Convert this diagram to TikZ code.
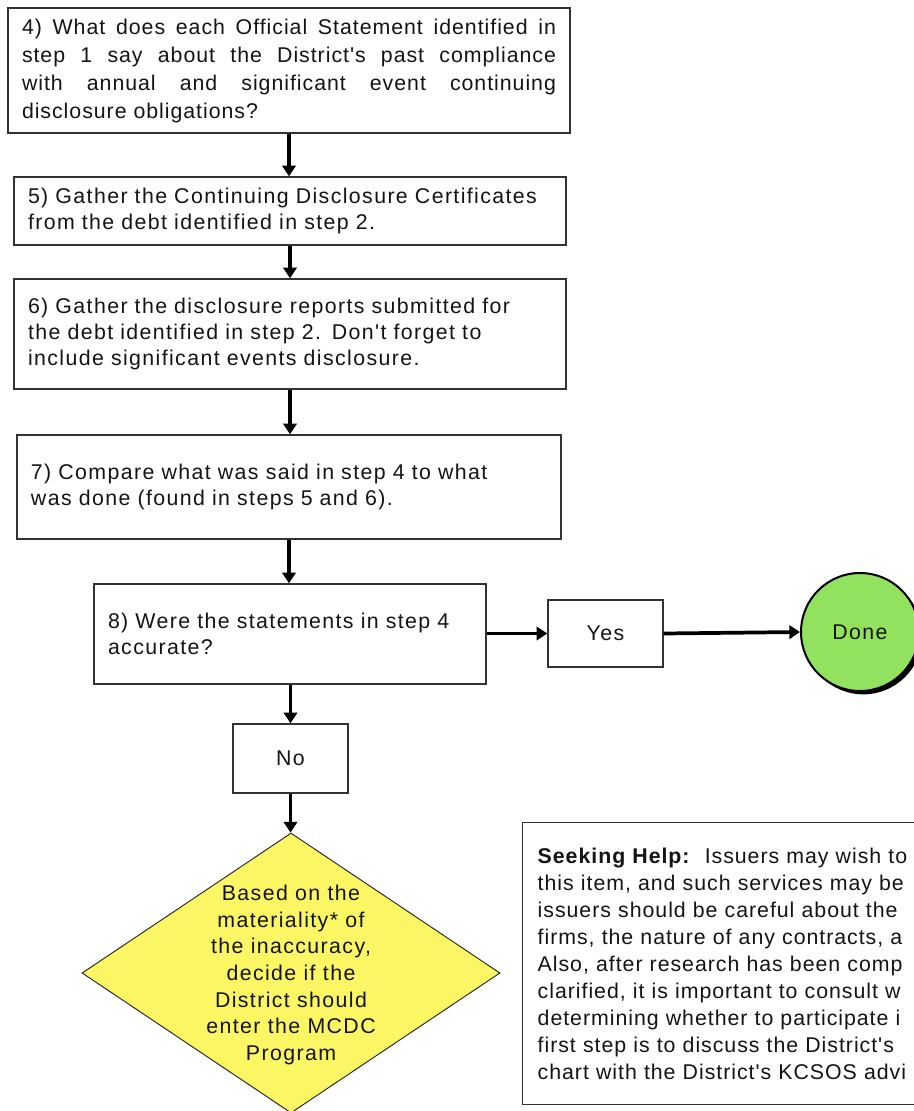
\documentclass[tikz,border=0pt]{standalone}
\usepackage{fontspec}
\newfontfamily\arialf{Liberation Sans}[LetterSpace=6.5]
\newfontfamily\arialj{Liberation Sans}[LetterSpace=4.5]
\newfontfamily\arialh{Liberation Sans}[LetterSpace=4.5]
\usetikzlibrary{shapes.geometric,arrows.meta,shadows}
\newdimen\pxu \pxu=0.75pt
\definecolor{donegreen}{RGB}{146,226,96}
\definecolor{decyellow}{RGB}{250,246,100}
\definecolor{txt}{RGB}{20,20,20}
\begin{document}
\begin{tikzpicture}[x=0.75pt,y=-0.75pt,
  every node/.style={font={\arialf\fontsize{16}{20}\selectfont}, text=txt},
  stepbox/.style={draw=black!80, line width=1.1pt, fill=white, align=left,
    inner xsep=14\pxu, inner ysep=0pt},
  smallbox/.style={draw=black!80, line width=1.1pt, fill=white, align=center,
    minimum width=115\pxu, minimum height=68\pxu, inner sep=0pt},
  arr/.style={line width=2.8pt, draw=black, -{Triangle[length=8pt,width=10pt]}},
]
\useasboundingbox (0,0) rectangle (914,1111);
\clip (0,0) rectangle (914,1111);

\node[stepbox, text width=534\pxu, minimum height=125\pxu, align=justify,
  font={\arialj\fontsize{16}{21}\selectfont}] (b4) at (289,70.5)
  {4) What does each Official Statement identified in\linebreak
   step 1 say about the District's past compliance\linebreak
   with annual and significant event continuing\linebreak
   disclosure obligations?};

\node[stepbox, text width=524\pxu, minimum height=68\pxu,
  font={\arialf\fontsize{16}{19}\selectfont}] (b5) at (290,211)
  {5) Gather the Continuing Disclosure Certificates\\
   from the debt identified in step 2.};

\node[stepbox, text width=524\pxu, minimum height=110\pxu,
  font={\arialf\fontsize{16}{19.5}\selectfont}] (b6) at (290,334)
  {6) Gather the disclosure reports submitted for\\
   the debt identified in step 2. Don't forget to\\
   include significant events disclosure.};

\node[stepbox, text width=516\pxu, minimum height=104\pxu,
  font={\arialf\fontsize{16}{19.5}\selectfont}] (b7) at (289,487)
  {7) Compare what was said in step 4 to what\\
   was done (found in steps 5 and 6).};

\node[stepbox, text width=364\pxu, minimum height=100\pxu,
  font={\arialf\fontsize{16}{19.5}\selectfont}] (b8) at (290,634)
  {8) Were the statements in step 4\\
   accurate?};

\node[smallbox, minimum height=67\pxu] (yes) at (605.5,633.5) {Yes};

\node[circle, draw=black, line width=1.5pt, fill=donegreen, minimum size=118\pxu,
  inner sep=0pt,
  drop shadow={shadow xshift=2.5pt, shadow yshift=-2.5pt, fill=black, opacity=1}]
  (done) at (860,632) {Done};

\node[smallbox, minimum height=69\pxu] (no) at (290.5,758.5) {No};

\node[diamond, draw=black!85, line width=0.7pt, fill=decyellow,
  minimum width=418\pxu, minimum height=280\pxu, inner sep=0pt] (dec) at (291,973) {};
\node[align=center, inner sep=0pt, font={\arialf\fontsize{16}{20}\selectfont}]
  (dectext) at (291,975)
  {Based on the\\ materiality* of\\ the inaccuracy,\\ decide if the\\
   District should\\ enter the MCDC\\ Program};

\node[draw=black!80, line width=1.1pt, fill=white, anchor=north west,
  align=left, text width=520\pxu, inner xsep=15\pxu, inner ysep=0pt,
  minimum height=282\pxu, font={\arialh\fontsize{16}{20.25}\selectfont}]
  (help) at (522,822)
  {\textbf{Seeking Help:}\ \ Issuers may wish to\\
   this item, and such services may be\\
   issuers should be careful about the\\
   firms, the nature of any contracts, a\\
   Also, after research has been comp\\
   clarified, it is important to consult w\\
   determining whether to participate i\\
   first step is to discuss the District's\\
   chart with the District's KCSOS advi};

\draw[arr] (b4.south) -- (b4.south |- b5.north);
\draw[arr] (b5.south) -- (b6.north);
\draw[arr] (b6.south) -- (b6.south |- b7.north);
\draw[arr] (b7.south) -- (b7.south |- b8.north);
\draw[arr] (b8.east |- yes.west) -- (yes.west);
\draw[arr] (yes.east) -- (done.west);
\draw[arr] (b8.south -| no.north) -- (no.north);
\draw[arr] (no.south) -- (no.south |- dec.north);
\end{tikzpicture}
\end{document}
